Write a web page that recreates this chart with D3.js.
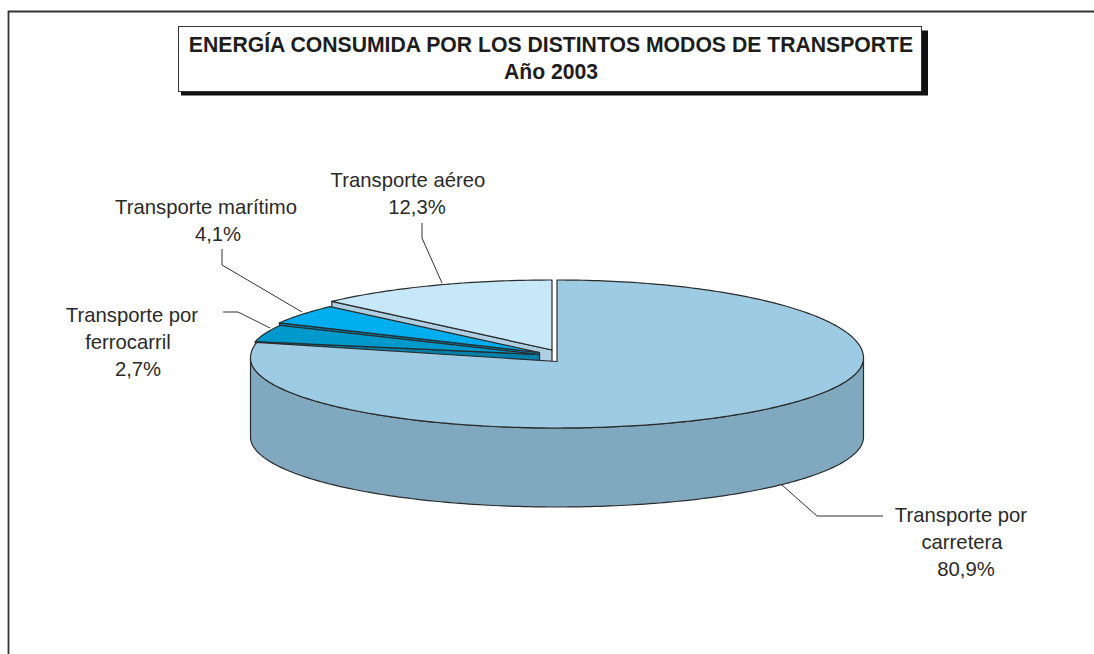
<!DOCTYPE html>
<html lang="es">
<head>
<meta charset="utf-8">
<title>Energía consumida por los distintos modos de transporte</title>
<script src="https://d3js.org/d3.v7.min.js"></script>
<style>
body { margin: 0; background: #fff; }
text { font-family: "Liberation Sans", Arial, sans-serif; fill: #2b2a29; }
.lbl { font-size: 20.3px; text-anchor: middle; }
.ttl { font-size: 21.2px; font-weight: bold; text-anchor: middle; fill: #1d1d1b; }
.leader { fill: none; stroke: #333; stroke-width: 1; }
</style>
</head>
<body>
<svg width="1094" height="654"></svg>
<script>
// values, clockwise from 12 o'clock
var categories = ["Transporte por carretera", "Transporte por ferrocarril", "Transporte marítimo", "Transporte aéreo"];
var shares = [80.9, 2.7, 4.1, 12.3];
var shareLabels = ["80,9%", "2,7%", "4,1%", "12,3%"];
var titleLines = ["ENERGÍA CONSUMIDA POR LOS DISTINTOS MODOS DE TRANSPORTE", "Año 2003"];

var topColors = ["#9dcbe3", "#0099cc", "#00aeef", "#c6e8f9"];
var wallColors = ["#80a9bf", "#0080ab", "#0080ab", "#aed0e2"];

// exploded slices: apex on screen, centre height of the rim, and the rim radii
var wedges = [
  { x: 557, y: 361.5, cy: 358, rx: 306.5, back: 78, front: 70 },
  { x: 539.5, y: 354.5, cy: 354.5, rx: 290, back: 65, front: 65 },
  { x: 539.5, y: 352.5, cy: 352.5, rx: 291, back: 66, front: 66 },
  { x: 552, y: 350, cy: 350, rx: 306, back: 70, front: 70 }
];
var depth = 79;

var svg = d3.select("svg");

// outer frame: left and top only, the rest is cut off by the page
svg.append("path")
  .attr("d", "M8.5,654V11.5H1094")
  .attr("fill", "none").attr("stroke", "#333").attr("stroke-width", 1.8);

// title box with shadow
svg.append("rect").attr("x", 181).attr("y", 30.5).attr("width", 747).attr("height", 65).attr("fill", "#111");
svg.append("rect").attr("x", 178.5).attr("y", 26.5).attr("width", 743).attr("height", 65)
  .attr("fill", "#fff").attr("stroke", "#333");
svg.selectAll(".ttl").data(titleLines).enter().append("text")
  .attr("class", "ttl")
  .attr("x", 551)
  .attr("y", function(d, i) { return 52 + i * 27; })
  .text(function(d) { return d; });

var pie = d3.pie().sort(null).value(function(d) { return d; });
var arcs = pie(shares);

// the drawn pie is not true to the percentages: small wedges open wider
var mainEnd = arcs[0].endAngle;
var smallAngle = d3.scalePow().exponent(1.11).domain([0, 2 * Math.PI - mainEnd]).range([0, 75 * Math.PI / 180]);
var mainAngle = d3.scaleLinear().domain([0, mainEnd]).range([0, 2 * Math.PI - 78.5 * Math.PI / 180]);

function warp(a) {
  if (a <= mainEnd) return mainAngle(a);
  return 2 * Math.PI - smallAngle(2 * Math.PI - a);
}

function project(w, a) {
  var u = Math.sin(a), v = Math.cos(a);
  return [w.x + w.rx * u, w.cy - v * (v > 0 ? w.back : w.front)];
}

function arcPoints(w, a0, a1) {
  var n = Math.max(2, Math.ceil((a1 - a0) * 60));
  return d3.range(n + 1).map(function(i) {
    return project(w, a0 + (a1 - a0) * i / n);
  });
}

function sink(p) { return [p[0], p[1] + depth]; }

var line = d3.line();

// painter's order: air, sea, rail, then road on top
[3, 2, 1, 0].forEach(function(i) {
  var w = wedges[i];
  var a0 = warp(arcs[i].startAngle), a1 = warp(arcs[i].endAngle);
  var g = svg.append("g");
  var apex = [w.x, w.y];
  var wall;

  if (i === 0) {
    // road slice: only the front of the rim shows
    var rim = arcPoints(w, Math.PI / 2, 3 * Math.PI / 2);
    wall = rim.concat(rim.map(sink).reverse());
  } else {
    // small slices: the cut face under the lower edge
    var corner = project(w, a0);
    wall = [corner, apex, sink(apex), sink(corner)];
  }
  g.append("path")
    .attr("d", line(wall) + "Z")
    .attr("fill", wallColors[i]).attr("stroke", "#2b2b2b").attr("stroke-width", 1.2);

  g.append("path")
    .attr("d", line([apex].concat(arcPoints(w, a0, a1))) + "Z")
    .attr("fill", topColors[i]).attr("stroke", "#2b2b2b").attr("stroke-width", 1.2)
    .attr("stroke-linejoin", "round");
});

// labels and leader lines
var labelLines = [
  ["Transporte por", "carretera", shareLabels[0]],
  ["Transporte por", "ferrocarril", shareLabels[1]],
  [categories[2], shareLabels[2]],
  [categories[3], shareLabels[3]]
];
var labelX = [[961, 962, 966], [132, 128, 138], [206, 218], [408, 417]];
var labelY = [522, 322, 214, 187];
var leaders = [
  [[782, 485], [817, 516], [883, 516]],
  [[270, 328], [238, 312], [223, 312]],
  [[302, 312], [222, 265], [222, 249]],
  [[442, 283], [422, 238], [422, 223]]
];

leaders.forEach(function(l) {
  svg.append("path").attr("class", "leader").attr("d", line(l));
});

labelLines.forEach(function(lines, i) {
  var t = svg.append("text").attr("class", "lbl");
  lines.forEach(function(s, j) {
    t.append("tspan")
      .attr("x", labelX[i][j])
      .attr("y", labelY[i] + j * 27)
      .text(s);
  });
});
</script>
</body>
</html>
